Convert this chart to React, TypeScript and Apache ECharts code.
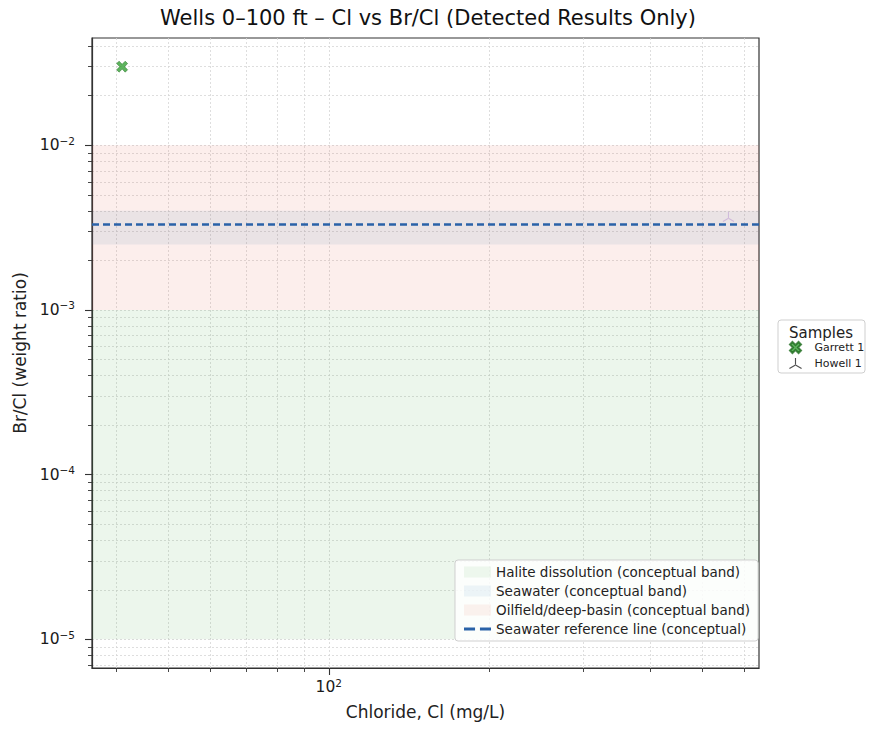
import React, { useEffect, useRef } from "react";
import * as echarts from "echarts";

// ---- data ----
const SAMPLE_NAMES = ["Garrett 1", "Howell 1"];
const SAMPLE_CL = [41, 561];
const SAMPLE_BRCL = [0.03, 0.0036];

const BAND_NAMES = [
  "Halite dissolution (conceptual band)",
  "Seawater (conceptual band)",
  "Oilfield/deep-basin (conceptual band)",
];
const BAND_LOW = [1e-5, 0.0025, 1e-3];
const BAND_HIGH = [1e-3, 0.004, 1e-2];

const SEAWATER_NAME = "Seawater reference line (conceptual)";
const SEAWATER_RATIO = 0.0033;

const X_MIN = 36;
const X_MAX = 640;
const Y_MIN = 6.7e-6;
const Y_MAX = 0.0448;

const X_MAJOR = [100];
const X_MINOR = [40, 50, 60, 70, 80, 90, 200, 300, 400, 500, 600];
const Y_MAJOR = [1e-5, 1e-4, 1e-3, 1e-2];
const Y_MINOR = [
  7e-6, 8e-6, 9e-6, 2e-5, 3e-5, 4e-5, 5e-5, 6e-5, 7e-5, 8e-5, 9e-5,
  2e-4, 3e-4, 4e-4, 5e-4, 6e-4, 7e-4, 8e-4, 9e-4,
  2e-3, 3e-3, 4e-3, 5e-3, 6e-3, 7e-3, 8e-3, 9e-3,
  2e-2, 3e-2, 4e-2,
];

const BAND_COLORS = [
  "rgba(44,160,44,0.09)",
  "rgba(31,119,180,0.09)",
  "rgba(228,90,70,0.10)",
];
const LINE_COLOR = "#2a62a8";

const X_PATH =
  "path://M0.22 0 L0.5 0.28 L0.78 0 L1 0.22 L0.72 0.5 L1 0.78 L0.78 1 L0.5 0.72 L0.22 1 L0 0.78 L0.28 0.5 L0 0.22 Z";
const TRI_UP_PATH =
  "path://M-0.08 -1 L0.08 -1 L0.08 0 L-0.08 0 Z M0.04 0.069 L-0.826 0.569 L-0.906 0.431 L-0.04 -0.069 Z M-0.04 0.069 L0.826 0.569 L0.906 0.431 L0.04 -0.069 Z";
const DASH_ICON = "path://M0 0 L9 0 L9 2.6 L0 2.6 Z M13 0 L22 0 L22 2.6 L13 2.6 Z";

const FONT = "DejaVu Sans";

function supLabel(v: number) {
  const e = Math.round(Math.log10(v));
  const s = e < 0 ? "\u2212" + Math.abs(e) : String(e);
  return "{b|10}{s|" + s + "}";
}

export default function App() {
  const ref = useRef<HTMLDivElement>(null);
  useEffect(() => {
    if (!ref.current) return;
    const chart = echarts.init(ref.current, null, { renderer: "svg" });
    const gridLine = { show: true, lineStyle: { color: "#d6d6d6", width: 0.8, type: [2, 2] as any } };
    const rich = {
      b: { fontSize: 15.5, fontFamily: FONT, color: "#1a1a1a" },
      s: { fontSize: 10.5, fontFamily: FONT, color: "#1a1a1a", padding: [0, 0, 9, 0] },
    };
    const axisLineStyle = { color: "#333", width: 1.2 };
    const nameStyle = { fontFamily: FONT, fontSize: 17, color: "#222" };
    const bandSeries = BAND_NAMES.map((name, i) => ({
      name,
      type: "scatter",
      data: [],
      itemStyle: { color: BAND_COLORS[i] },
      markArea: {
        silent: true,
        itemStyle: { color: BAND_COLORS[i] },
        data: [[{ yAxis: BAND_LOW[i] }, { yAxis: BAND_HIGH[i] }]],
      },
    }));
    const option: any = {
      animation: false,
      backgroundColor: "#fff",
      grid: {
        left: 92,
        right: 119,
        top: 38,
        bottom: 64,
        show: true,
        borderColor: "#333",
        borderWidth: 1.2,
        backgroundColor: "transparent",
      },
      xAxis: [
        {
          type: "log",
          min: X_MIN,
          max: X_MAX,
          position: "bottom",
          name: "Chloride, Cl (mg/L)",
          nameLocation: "middle",
          nameGap: 35,
          nameTextStyle: nameStyle,
          axisLine: { show: true, lineStyle: axisLineStyle },
          axisTick: { show: true, length: 7, customValues: X_MAJOR, lineStyle: { color: "#333", width: 1.1 } },
          axisLabel: {
            customValues: X_MAJOR,
            formatter: (v: number) => supLabel(v),
            rich,
            margin: 9,
          },
          splitLine: gridLine,
        },
        {
          type: "log",
          min: X_MIN,
          max: X_MAX,
          position: "bottom",
          axisLine: { show: false },
          axisTick: { show: true, length: 4, customValues: X_MINOR, lineStyle: { color: "#333", width: 0.9 } },
          axisLabel: { show: false },
          splitLine: gridLine,
        },
      ],
      yAxis: [
        {
          type: "log",
          min: Y_MIN,
          max: Y_MAX,
          position: "left",
          name: "Br/Cl (weight ratio)",
          nameLocation: "middle",
          nameGap: 63,
          nameTextStyle: nameStyle,
          axisLine: { show: true, lineStyle: axisLineStyle },
          axisTick: { show: true, length: 7, customValues: Y_MAJOR, lineStyle: { color: "#333", width: 1.1 } },
          axisLabel: {
            customValues: Y_MAJOR,
            formatter: (v: number) => supLabel(v),
            rich,
            margin: 17,
          },
          splitLine: gridLine,
        },
        {
          type: "log",
          min: Y_MIN,
          max: Y_MAX,
          position: "left",
          axisLine: { show: false },
          axisTick: { show: true, length: 4, customValues: Y_MINOR, lineStyle: { color: "#333", width: 0.9 } },
          axisLabel: { show: false },
          splitLine: gridLine,
        },
      ],
      legend: [
        {
          data: [
            ...BAND_NAMES.map((n) => ({ name: n, icon: "rect" })),
            { name: SEAWATER_NAME, icon: DASH_ICON },
          ],
          orient: "vertical",
          left: 455,
          top: 560,
          itemWidth: 27,
          itemHeight: 11,
          itemGap: 5,
          padding: [5, 8, 5, 9],
          borderColor: "#cfcfcf",
          borderWidth: 1,
          borderRadius: 3,
          backgroundColor: "rgba(255,255,255,0.85)",
          textStyle: { fontFamily: FONT, fontSize: 13.5, color: "#222" },
        },
        {
          data: [
            { name: "Garrett 1" },
            { name: "Howell 1", itemStyle: { color: "#222" } },
          ],
          orient: "vertical",
          left: 789,
          top: 341,
          itemWidth: 28,
          itemHeight: 11,
          itemGap: 4,
          padding: 0,
          textStyle: { fontFamily: FONT, fontSize: 11, color: "#222" },
        },
      ],
      graphic: [
        {
          type: "text",
          x: 428,
          y: 18,
          style: {
            text: "Wells 0\u2013100 ft \u2013 Cl vs Br/Cl (Detected Results Only)",
            align: "center",
            verticalAlign: "middle",
            fontFamily: FONT,
            fontSize: 21,
            fill: "#111",
          },
        },
        {
          type: "rect",
          shape: { x: 778, y: 320, width: 87, height: 53, r: 3 },
          style: { fill: "#fff", stroke: "#cfcfcf", lineWidth: 1 },
          z: -1,
        },
        {
          type: "text",
          x: 821,
          y: 333,
          style: {
            text: "Samples",
            align: "center",
            verticalAlign: "middle",
            fontFamily: FONT,
            fontSize: 15,
            fill: "#222",
          },
        },
      ],
      series: [
        ...bandSeries,
        {
          name: SEAWATER_NAME,
          type: "line",
          data: [
            [X_MIN, SEAWATER_RATIO],
            [X_MAX, SEAWATER_RATIO],
          ],
          symbol: "none",
          lineStyle: { color: LINE_COLOR, width: 2.4, type: [7, 4] },
          itemStyle: { color: LINE_COLOR },
          z: 5,
        },
        {
          name: SAMPLE_NAMES[0],
          type: "scatter",
          data: [[SAMPLE_CL[0], SAMPLE_BRCL[0]]],
          symbol: X_PATH,
          symbolSize: 11,
          itemStyle: { color: "#35a035", borderColor: "#1e6b1e", borderWidth: 0.6 },
          z: 6,
        },
        {
          name: SAMPLE_NAMES[1],
          type: "scatter",
          data: [[SAMPLE_CL[1], SAMPLE_BRCL[1]]],
          symbol: TRI_UP_PATH,
          symbolSize: [11.5, 10],
          symbolOffset: [0, -1.4],
          itemStyle: { color: "rgba(160,110,200,0.45)" },
          z: 6,
        },
      ],
    };
    chart.setOption(option);
    return () => chart.dispose();
  }, []);
  return <div ref={ref} style={{ width: 878, height: 732, marginLeft: -8, marginTop: -8 }} />;
}
